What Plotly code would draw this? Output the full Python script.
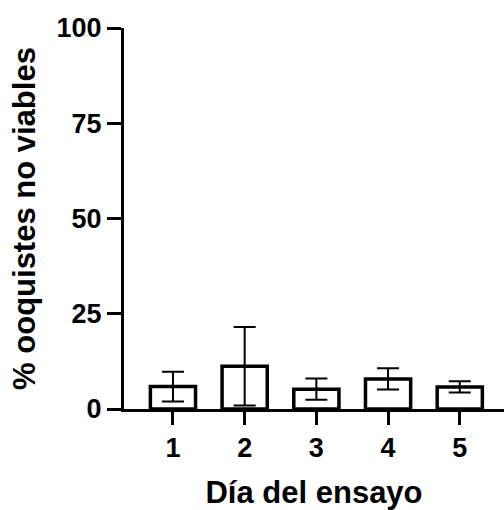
import plotly.graph_objects as go

days = [1, 2, 3, 4, 5]
day_labels = ["1", "2", "3", "4", "5"]
means = [5.9, 11.2, 5.2, 7.9, 5.8]
sds = [3.9, 10.3, 2.8, 2.8, 1.5]
y_ticks = [0, 25, 50, 75, 100]

FONT = "Liberation Sans, Arial, Helvetica, sans-serif"

fig = go.Figure()
fig.add_trace(go.Bar(
    x=days, y=means, width=0.63,
    marker=dict(color="white", line=dict(color="black", width=3.5)),
    error_y=dict(type="data", array=sds, visible=True, color="black",
                 thickness=2, width=11),
))

fig.update_layout(
    width=504, height=510,
    margin=dict(l=124, r=0, t=28, b=101),
    plot_bgcolor="white", paper_bgcolor="white",
    showlegend=False,
    font=dict(family=FONT, color="black"),
)
fig.update_xaxes(
    range=[0.317, 5.617], tickvals=days, ticktext=day_labels,
    showline=True, linewidth=3, linecolor="black",
    ticks="outside", ticklen=13, tickwidth=3, tickcolor="black",
    showgrid=False, zeroline=False,
    tickfont=dict(size=27, family=FONT, weight="bold"),
    title=dict(text="Día del ensayo", font=dict(size=31, family=FONT, weight="bold"), standoff=24),
)
fig.update_yaxes(
    range=[0, 100], tickvals=y_ticks,
    showline=True, linewidth=3, linecolor="black",
    ticks="outside", ticklen=14, tickwidth=3, tickcolor="black",
    showgrid=False, zeroline=False,
    tickfont=dict(size=27, family=FONT, weight="bold"),
    title=dict(text="% ooquistes no viables", font=dict(size=31, family=FONT, weight="bold"), standoff=12),
)

fig.write_html("out.html")
